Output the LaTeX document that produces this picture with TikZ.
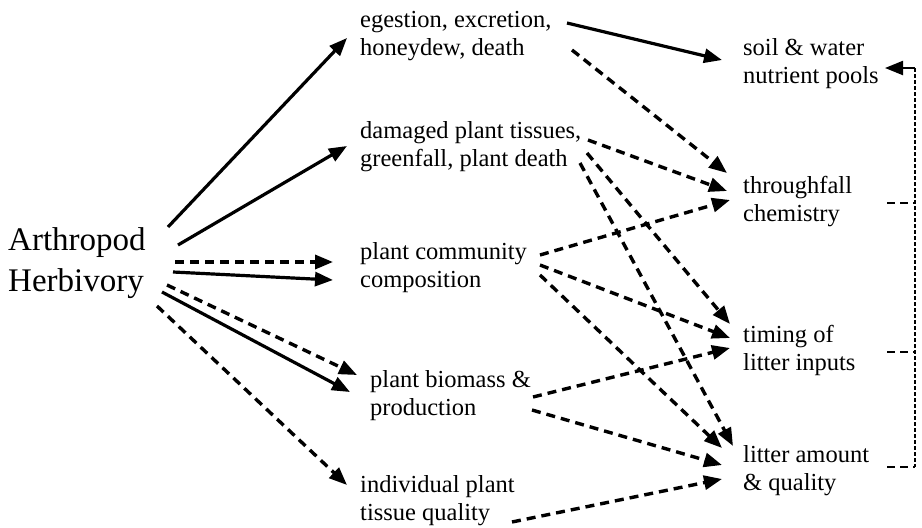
\documentclass[tikz,border=0pt]{standalone}
\usepackage{fontspec}
\setmainfont{Liberation Serif}
\usetikzlibrary{arrows.meta}

\begin{document}
\begin{tikzpicture}[x=1pt, y=-1pt, >={Triangle[length=18pt,width=14pt]},
     lbl/.style={anchor=base west, inner sep=0pt, align=left,
          font=\fontsize{24.5}{28}\selectfont},
     sol/.style={->, line width=3.2pt},
     dsh/.style={->, line width=3.4pt, dash pattern=on 9pt off 6pt}]
               \useasboundingbox (0,0) rectangle (922,528);
               % cause and the five routes
               \node[lbl, font=\fontsize{33}{41}\selectfont] (ah) at (8,291) {Arthropod\\Herbivory};
               \node[lbl] (egest) at (360,55) {egestion, excretion,\\honeydew, death};
               \node[lbl] (damage) at (360,166) {damaged plant tissues,\\greenfall, plant death};
               \node[lbl] (comm) at (360,287) {plant community\\composition};
               \node[lbl] (biom) at (370,415) {plant biomass \&\\production};
               \node[lbl] (indiv) at (360,520) {individual plant\\tissue quality};
               % nutrient endpoints
               \node[lbl] (soil) at (743,83) {soil \& water\\nutrient pools};
               \node[lbl] (thru) at (743,221) {throughfall\\chemistry};
               \node[lbl] (timing) at (743,370) {timing of\\litter inputs};
               \node[lbl] (litter) at (743,490) {litter amount\\\& quality};
               % from herbivory
               \draw[sol] ([shift={(160,-64)}]ah.base west) -- ([shift={(-13,-17)}]egest.base west);
               \draw[sol] ([shift={(170,-46)}]ah.base west) -- ([shift={(-13,-20)}]damage.base west);
               \draw[dsh] ([shift={(167,-29)}]ah.base west) -- ([shift={(-27,-25)}]comm.base west);
               \draw[sol] ([shift={(165,-19)}]ah.base west) -- ([shift={(-27,-7)}]comm.base west);
               \draw[dsh] ([shift={(159,-6)}]ah.base west) -- ([shift={(-13,-40)}]biom.base west);
               \draw[sol] ([shift={(154,1)}]ah.base west) -- ([shift={(-20,-23)}]biom.base west);
               \draw[dsh] ([shift={(149,15)}]ah.base west) -- ([shift={(-13,-35)}]indiv.base west);
               % to the nutrient endpoints
               \draw[sol] ([shift={(207,-32)}]egest.base west) -- ([shift={(-21,-23)}]soil.base west);
               \draw[dsh] ([shift={(212,-5)}]egest.base west) -- ([shift={(-16,-48)}]thru.base west);
               \draw[dsh] ([shift={(228,-26)}]damage.base west) -- ([shift={(-16,-30)}]thru.base west);
               \draw[dsh] ([shift={(227,-13)}]damage.base west) -- ([shift={(-13,-46)}]timing.base west);
               \draw[dsh] ([shift={(220,-3)}]damage.base west) -- ([shift={(-10,-44)}]litter.base west);
               \draw[dsh] ([shift={(180,-32)}]comm.base west) -- ([shift={(-13,-21)}]thru.base west);
               \draw[dsh] ([shift={(180,-22)}]comm.base west) -- ([shift={(-13,-32)}]timing.base west);
               \draw[dsh] ([shift={(180,-12)}]comm.base west) -- ([shift={(-21,-42)}]litter.base west);
               \draw[dsh] ([shift={(163,-18)}]biom.base west) -- ([shift={(-13,-22)}]timing.base west);
               \draw[dsh] ([shift={(162,-5)}]biom.base west) -- ([shift={(-21,-25)}]litter.base west);
               \draw[dsh] ([shift={(152,2)}]indiv.base west) -- ([shift={(-21,-11)}]litter.base west);
               % feedback bracket
               \coordinate (fbtop) at (915,68);
               \coordinate (fbbot) at (915,467);
               \draw[line width=2.2pt, dash pattern=on 4pt off 2pt] (fbtop) -- (fbbot);
               \draw[->, line width=2.2pt] (fbtop) -- ([shift={(142,-15)}]soil.base west);
               \draw[line width=2.2pt, dash pattern=on 8pt off 5pt] ([shift={(144,-18)}]thru.base west) -- ++(28,0);
               \draw[line width=2.2pt, dash pattern=on 8pt off 5pt] ([shift={(144,-18)}]timing.base west) -- ++(28,0);
               \draw[line width=2.2pt, dash pattern=on 8pt off 5pt] ([shift={(144,-23)}]litter.base west) -- ++(28,0);
          \end{tikzpicture}
\end{document}
